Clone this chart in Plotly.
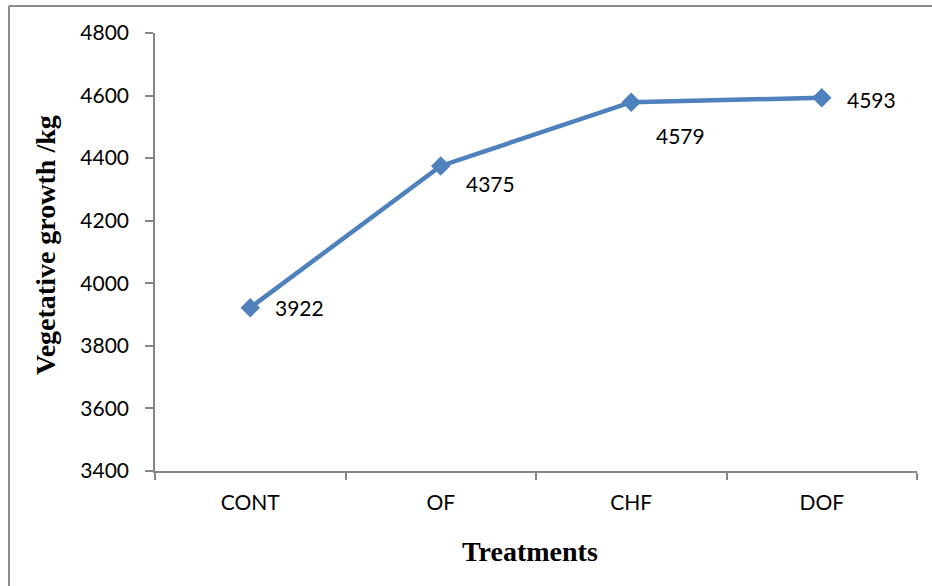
import plotly.graph_objects as go

categories = ["CONT", "OF", "CHF", "DOF"]
values = [3922, 4375, 4579, 4593]
value_labels = ["3922", "4375", "4579", "4593"]
y_ticks = [3400, 3600, 3800, 4000, 4200, 4400, 4600, 4800]

W, H = 932, 586
L, R, T, B = 155, 15, 33, 115
pw, ph = W - L - R, H - T - B

LINE_COLOR = "#4F81BD"
AXIS_COLOR = "#868686"
TICK_FONT = dict(family="Lato, 'Open Sans', sans-serif", size=21, color="#000000")
TITLE_FONT = dict(family="'Liberation Serif', 'Times New Roman', serif", size=28, color="#000000")

fig = go.Figure()
fig.add_trace(go.Scatter(
    x=categories, y=values, mode="lines+markers",
    line=dict(color=LINE_COLOR, width=4.5),
    marker=dict(symbol="diamond", size=15, color=LINE_COLOR),
    showlegend=False, hoverinfo="skip",
))

# data labels (offsets in px)
label_dy = [0, -18, -33, -2]
for c, v, t, dy in zip(categories, values, value_labels, label_dy):
    fig.add_annotation(x=c, y=v, text=t, showarrow=False, xanchor="left", yanchor="middle",
                       xshift=23, yshift=dy, font=TICK_FONT)

# axis titles
fig.add_annotation(xref="paper", yref="paper", x=(45 - L) / pw, y=((H - B) - 245) / ph,
                   text="<b>Vegetative growth /kg</b>", textangle=-90, showarrow=False,
                   xanchor="center", yanchor="middle", font=TITLE_FONT)
fig.add_annotation(xref="paper", yref="paper", x=(530 - L) / pw, y=((H - B) - 551) / ph,
                   text="<b>Treatments</b>", showarrow=False,
                   xanchor="center", yanchor="middle", font=TITLE_FONT)

# outer frame (left and top edges)
bx = (9 - L) / pw
by = 1 + (T - 6) / ph
fig.add_shape(type="line", xref="paper", yref="paper", x0=bx, x1=bx, y0=by, y1=-1,
              line=dict(color="#8C8C8C", width=2))
fig.add_shape(type="line", xref="paper", yref="paper", x0=bx, x1=2, y0=by, y1=by,
              line=dict(color="#8C8C8C", width=2))

fig.update_xaxes(
    type="category", range=[-0.5, 3.5], tickson="boundaries",
    showline=True, linecolor=AXIS_COLOR, linewidth=1.5,
    ticks="outside", ticklen=7, tickcolor=AXIS_COLOR, tickwidth=1.5,
    showgrid=False, zeroline=False, tickfont=TICK_FONT, ticklabelstandoff=12,
    mirror=False,
)
fig.update_yaxes(
    range=[3400, 4800], tickvals=y_ticks, ticktext=[str(v) for v in y_ticks],
    showline=True, linecolor=AXIS_COLOR, linewidth=1.5,
    ticks="outside", ticklen=8, tickcolor=AXIS_COLOR, tickwidth=1.5,
    showgrid=False, zeroline=False, tickfont=TICK_FONT, ticklabelstandoff=12,
)
fig.update_layout(
    width=W, height=H, margin=dict(l=L, r=R, t=T, b=B, pad=0),
    paper_bgcolor="white", plot_bgcolor="white",
)
fig.write_html(
    "out.html",
    config={"displayModeBar": False},
    post_script="document.body.style.margin='0';document.body.style.overflow='hidden';"
                "document.documentElement.style.overflow='hidden';",
)
